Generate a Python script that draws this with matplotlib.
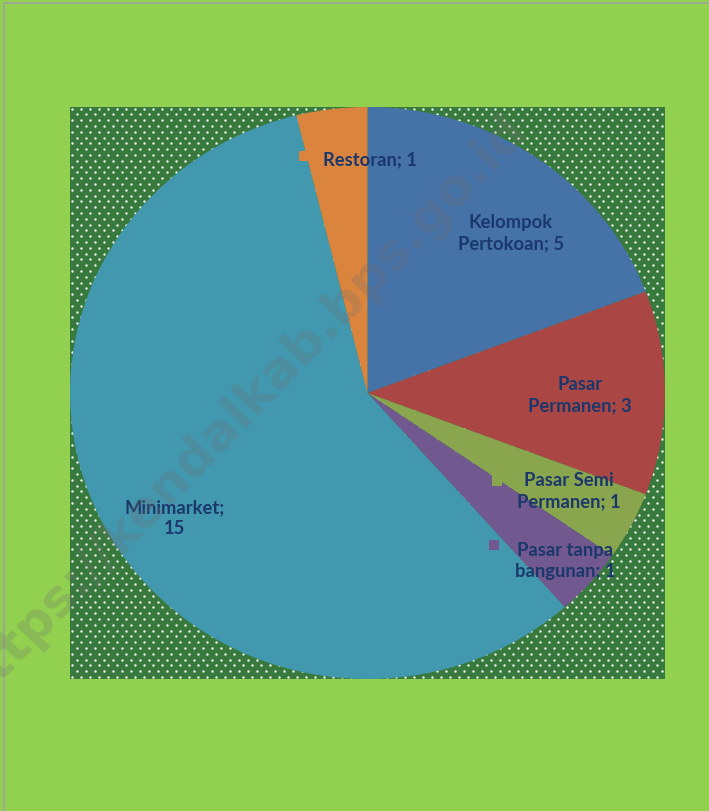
import matplotlib
matplotlib.use("Agg")
import matplotlib.pyplot as plt
from matplotlib.patches import Rectangle
import numpy as np

# Data
categories = ["Kelompok\nPertokoan", "Pasar\nPermanen", "Pasar Semi\nPermanen",
              "Pasar tanpa\nbangunan", "Minimarket", "Restoran"]
values = [5, 3, 1, 1, 15, 1]
colors = ["#4572A7", "#AA4643", "#89A54E", "#71588F", "#4198AF", "#DB843D"]

W, H = 709, 812
fig = plt.figure(figsize=(W / 100, H / 100), dpi=100)
fig.patch.set_facecolor("#92D050")

def fx(px):
    return px / W

def fy(py):
    return 1 - py / H

# thin grey frame at top/left
fig.patches.append(Rectangle((fx(4), fy(H + 5)), 1.2, fy(4) - fy(H + 5),
                             transform=fig.transFigure, facecolor="none",
                             edgecolor="#A0A0A0", linewidth=1.2))

# plot area with dotted pattern
L, R, T, B = 70, 665, 108, 680
rect = [fx(L), fy(B), fx(R) - fx(L), fy(T) - fy(B)]
bg = fig.add_axes(rect)
bg.set_facecolor("#387A3D")
pw, ph = R - L, B - T
xs, ys = [], []
row = 0
for y in np.arange(2, ph, 5.8):
    off = 0 if row % 2 == 0 else 4.5
    for x in np.arange(2 + off, pw, 9):
        xs.append(x)
        ys.append(y)
    row += 1
bg.scatter(xs, ys, s=3.0, color="#F4F8EE", linewidths=0)
bg.set_xlim(0, pw)
bg.set_ylim(0, ph)
bg.set_xticks([])
bg.set_yticks([])
for s in bg.spines.values():
    s.set_visible(False)

# pie
ax = fig.add_axes(rect)
ax.patch.set_alpha(0)
ax.pie(values, colors=colors, startangle=90, counterclock=False,
       wedgeprops=dict(linewidth=0))
ax.set_aspect("auto")
ax.set_xlim(-1, 1)
ax.set_ylim(-1, 1)
ax.axis("off")

# data labels
seps = ["; ", "; ", "; ", "; ", ";\n", "; "]
label_pos = [(511, 233), (580, 395), (569, 491), (565, 561), (175, 518), (370, 160)]
font = dict(family=["Lato", "DejaVu Sans"], fontweight="bold", fontsize=13.2,
            color="#1B386C", ha="center", va="center", linespacing=1.3)
for name, v, sep, (px, py) in zip(categories, values, seps, label_pos):
    fig.text(fx(px), fy(py), f"{name}{sep}{v}", **font)

# small legend keys
keys = [(304, 157, 5), (497, 482, 2), (494, 546, 3)]
for px, py, i in keys:
    fig.patches.append(Rectangle((fx(px - 5), fy(py + 5)), 10 / W, 10 / H,
                                 transform=fig.transFigure,
                                 facecolor=colors[i], edgecolor="none"))

# watermark
fig.text(fx(241), fy(409), "https://kendalkab.bps.go.id", rotation=46,
         fontsize=37, fontweight="bold", color="#707070", alpha=0.25,
         ha="center", va="center", family="DejaVu Sans")

fig.savefig("out.png", dpi=100, facecolor=fig.get_facecolor())
